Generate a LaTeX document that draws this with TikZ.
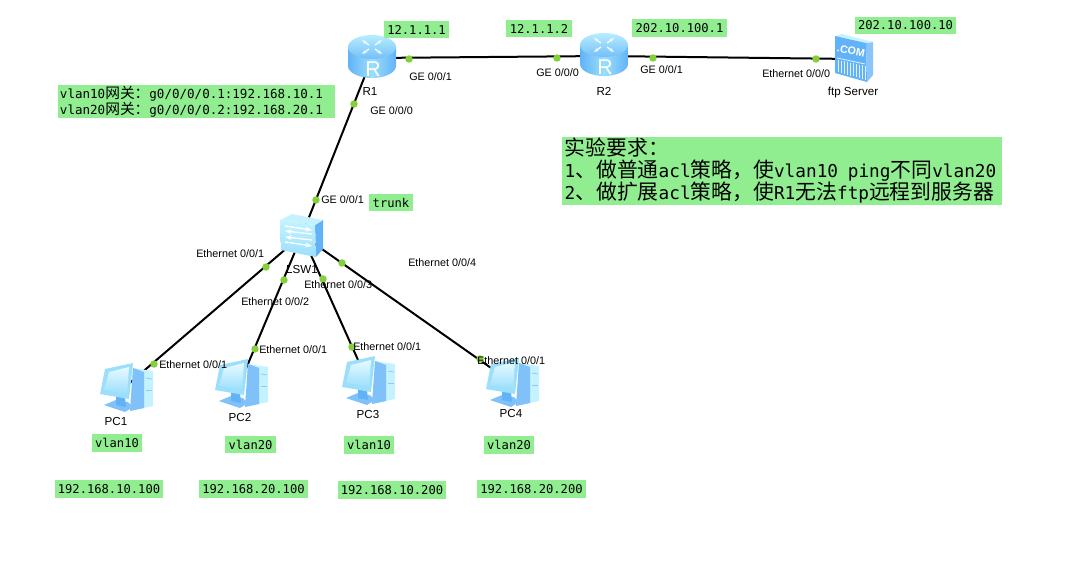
\documentclass[tikz,border=0pt]{standalone}
\usepackage{fontspec}
\usepackage{tikz}
\usetikzlibrary{arrows.meta}
\setmainfont{Liberation Sans}
\setmonofont{DejaVu Sans Mono}
\newfontfamily\cjk[Scale=1.175]{Noto Sans CJK SC}
\definecolor{tagfill}{HTML}{90EE90}
\definecolor{portdot}{HTML}{85CF3A}
\definecolor{iconpale}{HTML}{C4F3FF}
\definecolor{iconmid}{HTML}{9BDFFC}
\definecolor{icondeep}{HTML}{62B2F7}

\begin{document}
\begin{tikzpicture}[
      x=0.75pt, y=-0.75pt,
      device/.style={inner sep=0pt, minimum size=0pt},
      port/.style={circle, fill=portdot, inner sep=0pt, minimum size=5.6pt},
      link/.style={line width=1.5pt, color=black},
      portlabel/.style={anchor=west, inner sep=0pt, font=\fontsize{8.1}{10}\selectfont},
      devlabel/.style={inner sep=0pt, font=\fontsize{8.7}{10}\selectfont},
      tag/.style={fill=tagfill, inner ysep=0pt, inner xsep=2.5pt, minimum height=13pt,
        font=\ttfamily\fontsize{9.1}{12}\selectfont},
      routericon/.pic={
        \path[left color=icondeep, right color=icondeep, middle color=iconmid]
          (-24,-11) -- (-24,8) .. controls (-24,14.6) and (-13,20) .. (0,20)
          .. controls (13,20) and (24,14.6) .. (24,8) -- (24,-11) -- cycle;
        \path[top color=iconpale!70!iconmid, bottom color=icondeep!70!iconmid]
          (0,-11) ellipse [x radius=24, y radius=12];
        \draw[white!85!iconmid, line width=1pt, -{Stealth[length=3.5pt]}] (-3,-13) -- (-10,-18);
        \draw[white!85!iconmid, line width=1pt, -{Stealth[length=3.5pt]}] (3,-13) -- (10,-18);
        \draw[white!85!iconmid, line width=1pt, -{Stealth[length=3.5pt]}] (-3,-9) -- (-10,-4);
        \draw[white!85!iconmid, line width=1pt, -{Stealth[length=3.5pt]}] (3,-9) -- (10,-4);
        \node[text=white, inner sep=0pt, font=\fontsize{16}{16}\selectfont] (-glyph) at (1,11) {R};
      },
      switchicon/.pic={
        \fill[icondeep] (13,-10) -- (21,-15) -- (21,14) -- (14,22) -- cycle;
        \fill[iconpale] (-22,-15) -- (-10,-21) -- (21,-15) -- (13,-10) -- cycle;
        \path[top color=iconpale, bottom color=iconmid]
          (-22,-15) -- (13,-10) -- (14,22) -- (-21,15) -- cycle;
        \draw[white, line width=1pt, -{Stealth[length=5pt]}] (-17,-9) -- (10,-5);
        \draw[white, line width=1pt, -{Stealth[length=5pt]}] (10,-1) -- (-17,-4);
        \draw[white, line width=1pt, -{Stealth[length=5pt]}] (10,5) -- (-17,2);
        \draw[white, line width=1pt, -{Stealth[length=5pt]}] (-17,7) -- (10,11);
      },
      servericon/.pic={
        \fill[icondeep!75!white] (13,-16) -- (20,-17) -- (20,16) -- (14,23) -- cycle;
        \fill[iconpale] (-18,-23) -- (-11,-25) -- (20,-17) -- (13,-16) -- cycle;
        \fill[icondeep] (-18,-23) -- (13,-16) -- (14,23) -- (-18,14) -- cycle;
        \draw[white!80!icondeep, line width=0.6pt] (-16,-1) -- (12,5);
        \foreach \barx in {-15,-12,-9,-6,-3,0,3,6,9,12}
          \draw[white!80!icondeep, line width=0.6pt] (\barx,{1+(\barx+16)*0.21}) -- (\barx,{13+(\barx+16)*0.27});
        \node[text=white, inner sep=0pt, rotate=-11, font=\bfseries\fontsize{8}{8}\selectfont] (-glyph) at (-2,-8) {.COM};
      },
      pcicon/.pic={
        \fill[iconpale] (8,-19) -- (28,-16) -- (28,19) -- (5,24) -- cycle;
        \fill[icondeep!80!white] (8,-19) -- (19,-15) -- (19,21) -- (5,24) -- cycle;
        \draw[icondeep!70!white, line width=0.6pt] (21,-9) -- (27,-8);
        \draw[icondeep!70!white, line width=0.6pt] (21,3) -- (27,3);
        \fill[icondeep!80!white] (-21,18) -- (-9,13) -- (3,15) -- (8,20) -- (0,25) -- cycle;
        \fill[icondeep] (-9,8) -- (0,10) -- (1,20) -- (-9,18) -- cycle;
        \fill[iconmid] (-20,-18) -- (8,-24) -- (4,12) -- (-25,7) -- cycle;
        \path[top color=iconpale!40!white, bottom color=iconmid]
          (-16,-15) -- (4,-20) -- (2,7) -- (-21,3) -- cycle;
      }]

    % devices first, the links end on them
    \node[device] (R1) at (372,58) {};
    \node[device] (R2) at (604,56) {};
    \node[device] (srv) at (853,59) {};
    \node[device] (LSW1) at (302,235) {};
    \node[device] (PC1) at (125,387) {};
    \node[device] (PC2) at (240,383) {};
    \node[device] (PC3) at (367,380) {};
    \node[device] (PC4) at (511,382) {};

    \draw[link] (R1) -- (R2);
    \draw[link] (R2) -- (srv);
    \draw[link] (R1) -- (LSW1);
    \draw[link] (LSW1) -- (PC1);
    \draw[link] (LSW1) -- (PC2);
    \draw[link] (LSW1) -- (PC3);
    \draw[link] (LSW1) -- (PC4);

    \node[port] (d1) at (409,59) {};
    \node[port] (d2) at (557,58) {};
    \node[port] (d3) at (653,58) {};
    \node[port] (d4) at (816,59) {};
    \node[port] (d5) at (354,104) {};
    \node[port] (d6) at (316,200) {};
    \node[port] (d7) at (266,267) {};
    \node[port] (d8) at (284,280) {};
    \node[port] (d9) at (323,279) {};
    \node[port] (d10) at (342,263) {};
    \node[port] (d11) at (154,364) {};
    \node[port] (d12) at (255,349) {};
    \node[port] (d13) at (352,347) {};
    \node[port] (d14) at (480,359) {};

    \pic (R1icon) at (R1) {routericon};
    \pic (R2icon) at (R2) {routericon};
    \pic (srvicon) at (srv) {servericon};
    \pic (LSW1icon) at (LSW1) {switchicon};
    \pic (PC1icon) at (PC1) {pcicon};
    \pic (PC2icon) at (PC2) {pcicon};
    \pic (PC3icon) at (PC3) {pcicon};
    \pic (PC4icon) at (PC4) {pcicon};

    \node[devlabel] (l1) at (370,92) {R1};
    \node[devlabel] (l2) at (604,91) {R2};
    \node[devlabel] (l3) at (853,93) {ftp Server};
    \node[devlabel] (l4) at (302,269) {LSW1};
    \node[devlabel] (l5) at (116,421) {PC1};
    \node[devlabel] (l6) at (240,417) {PC2};
    \node[devlabel] (l7) at (368,414) {PC3};
    \node[devlabel] (l8) at (511,413) {PC4};

    \node[portlabel] (e1) at (409,77) {GE 0/0/1};
    \node[portlabel] (e2) at (536,73) {GE 0/0/0};
    \node[portlabel] (e3) at (370,111) {GE 0/0/0};
    \node[portlabel] (e4) at (640,70) {GE 0/0/1};
    \node[portlabel] (e5) at (762,74) {Ethernet 0/0/0};
    \node[portlabel] (e6) at (321,200) {GE 0/0/1};
    \node[portlabel] (e7) at (196,254) {Ethernet 0/0/1};
    \node[portlabel] (e8) at (241,302) {Ethernet 0/0/2};
    \node[portlabel] (e9) at (304,285) {Ethernet 0/0/3};
    \node[portlabel] (e10) at (408,263) {Ethernet 0/0/4};
    \node[portlabel] (e11) at (159,365) {Ethernet 0/0/1};
    \node[portlabel] (e12) at (259,350) {Ethernet 0/0/1};
    \node[portlabel] (e13) at (353,347) {Ethernet 0/0/1};
    \node[portlabel] (e14) at (477,361) {Ethernet 0/0/1};

    \node[tag] (t1) at (416.5,29.5) {12.1.1.1};
    \node[tag] (t2) at (539,28.5) {12.1.1.2};
    \node[tag] (t3) at (679.5,28) {202.10.100.1};
    \node[tag] (t4) at (905.5,25.5) {202.10.100.10};
    \node[tag] (t5) at (391,202.5) {trunk};
    \node[tag] (t6) at (117,443) {vlan10};
    \node[tag] (t7) at (250.5,444.5) {vlan20};
    \node[tag] (t8) at (369,445) {vlan10};
    \node[tag] (t9) at (509,445) {vlan20};
    \node[tag] (t10) at (109,489) {192.168.10.100};
    \node[tag] (t11) at (253.5,489) {192.168.20.100};
    \node[tag] (t12) at (392,490) {192.168.10.200};
    \node[tag] (t13) at (531.5,489) {192.168.20.200};

    \node[tag, align=left, text width=204.75pt, inner xsep=1.5pt, minimum height=24.75pt,
      font=\ttfamily\fontsize{9.4}{12}\selectfont] (gateway) at (196.5,101.5)
      {vlan10{\cjk 网关：}g0/0/0/0.1:192.168.10.1\\vlan20{\cjk 网关：}g0/0/0/0.2:192.168.20.1};

    \node[tag, align=left, text width=326pt, inner xsep=2pt, minimum height=51pt,
      font=\ttfamily\fontsize{13.3}{16.5}\selectfont] (task) at (782,171)
      {{\cjk 实验要求：}\\1{\cjk 、做普通}acl{\cjk 策略，使}vlan10\hspace{0.55em}ping{\cjk 不同}vlan20\\2{\cjk 、做扩展}acl{\cjk 策略，使}R1{\cjk 无法}ftp{\cjk 远程到服务器}};

    \useasboundingbox (0,0) rectangle (1090,583);
  \end{tikzpicture}
\end{document}
